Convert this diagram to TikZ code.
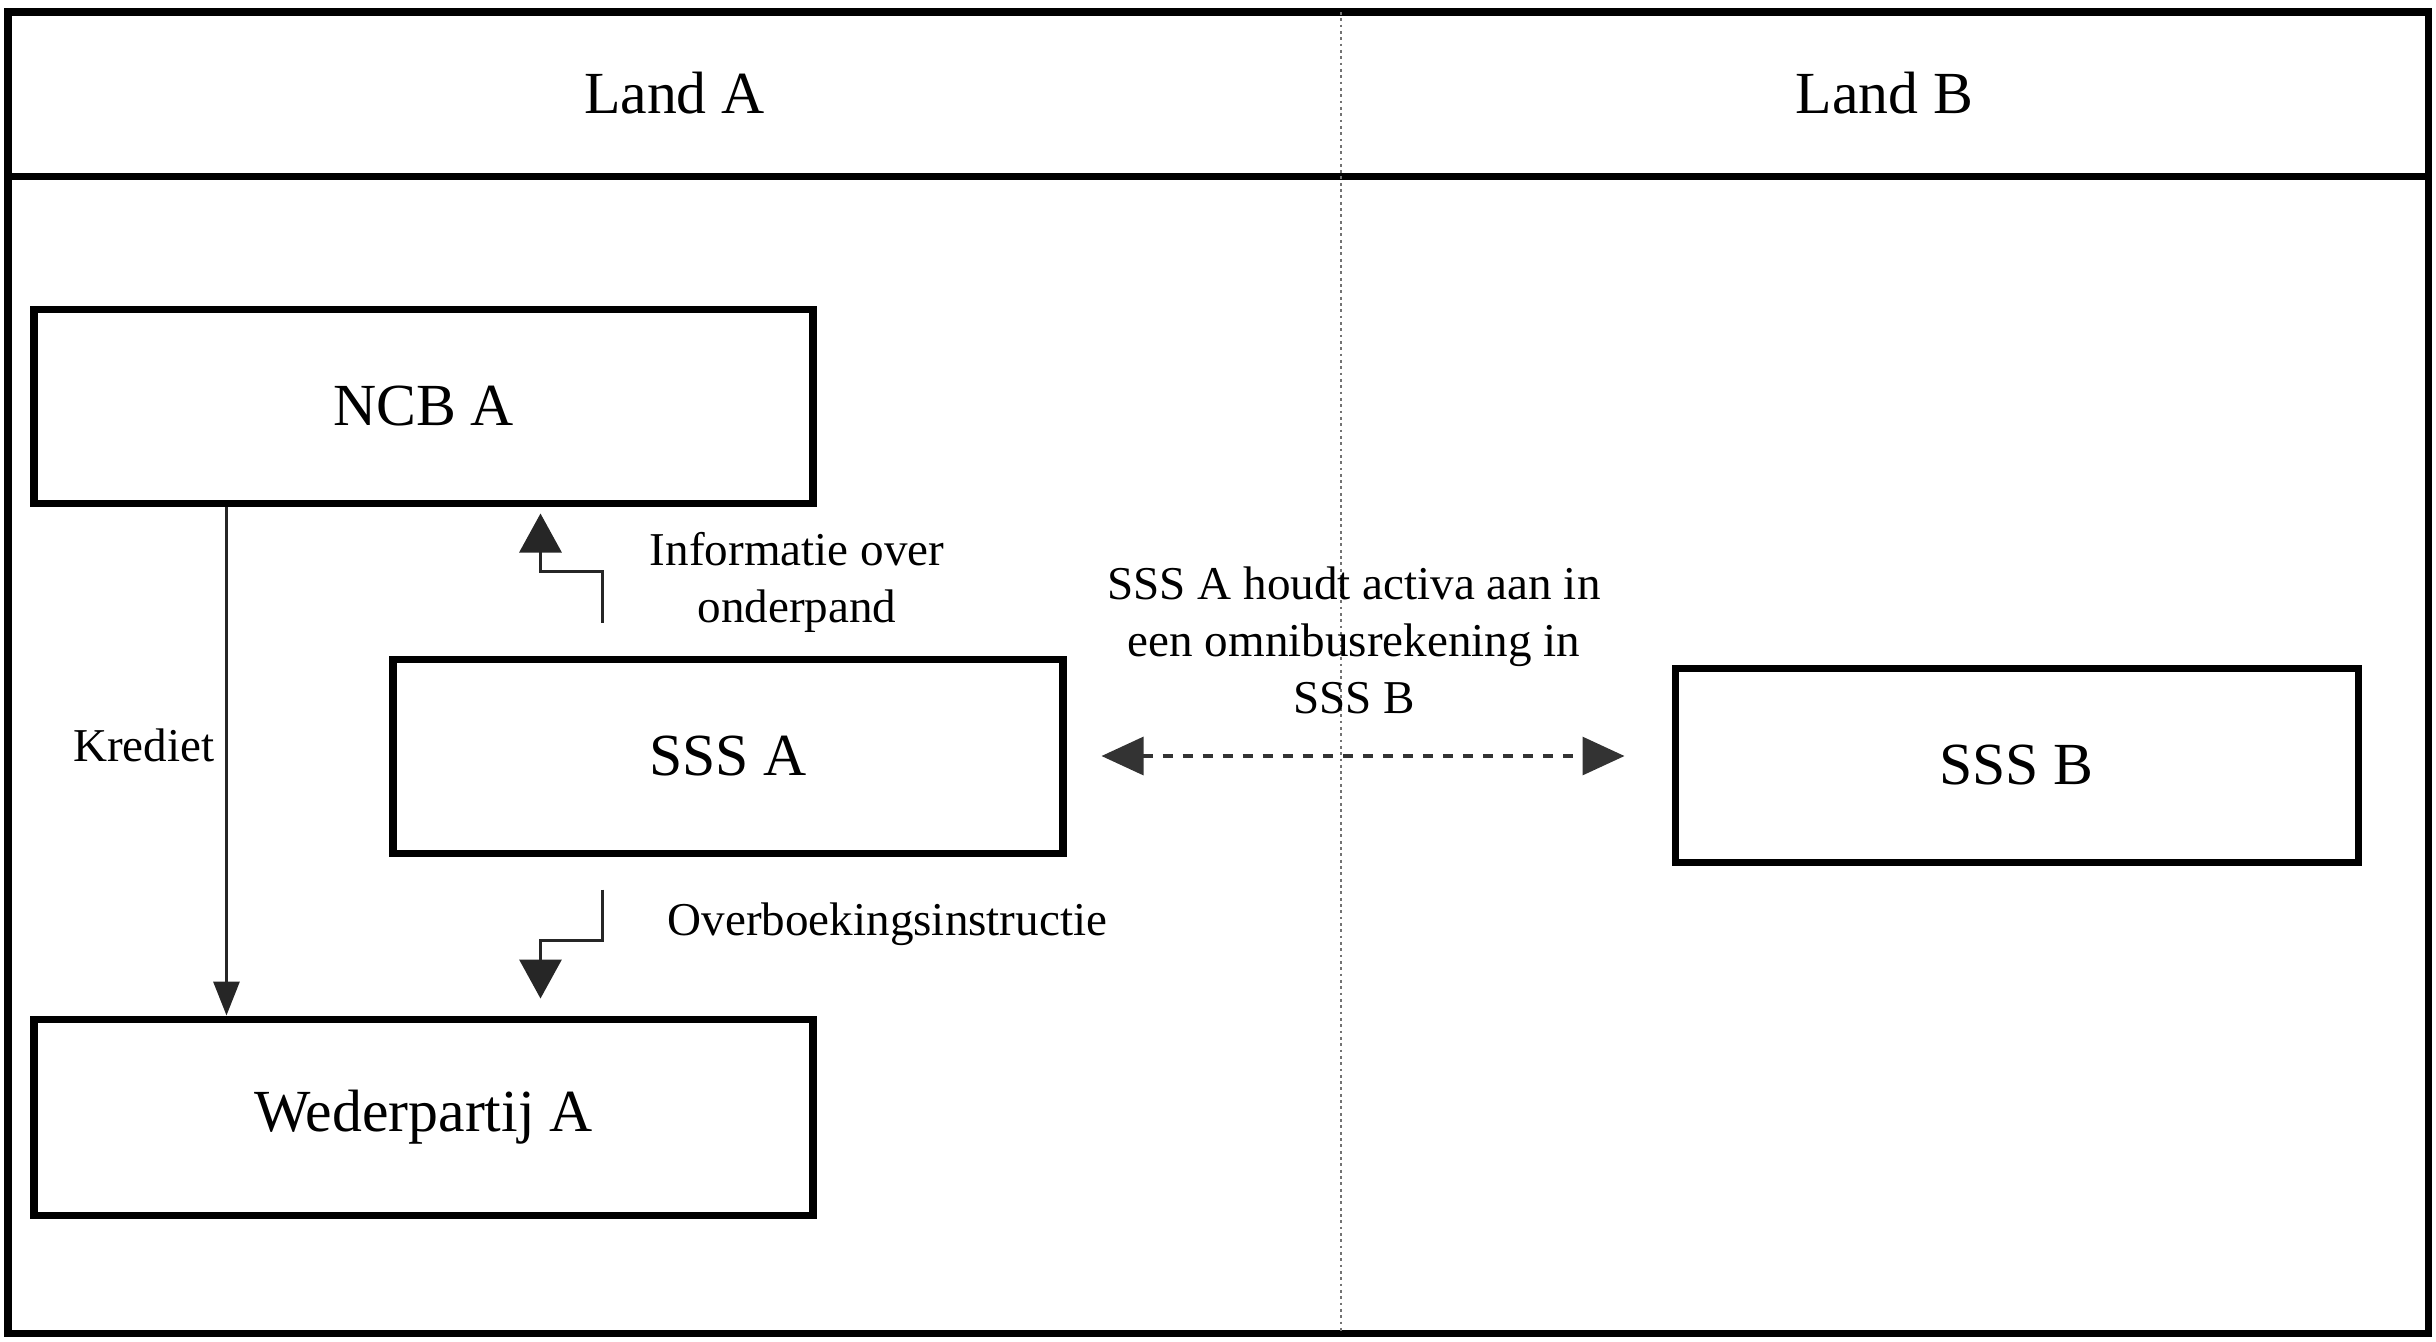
\documentclass[tikz,border=0pt]{standalone}
\usepackage{fontspec}
\setmainfont{Liberation Serif}
\usetikzlibrary{positioning,arrows.meta,calc}
\newcommand{\boxfont}{\fontsize{17}{20}\selectfont}
\newcommand{\lblfont}{\fontsize{13.4}{16.2}\selectfont}

\begin{document}
\begin{tikzpicture}[
  >={Triangle[length=3.9mm,width=4.2mm]},
  box/.style={draw, line width=2pt, minimum height=1.94cm, inner sep=0pt, font=\boxfont},
  flow/.style={draw=black!85, line width=0.9pt, ->},
  lbl/.style={font=\lblfont, align=center, inner sep=2pt}
]
\useasboundingbox (0,0) rectangle (24.36,-13.41);
% frame, header and the line between the two countries
\draw[line width=2pt] (0.08,-0.12) rectangle (24.28,-13.33);
\draw[line width=2pt] (0.08,-1.76) -- (24.28,-1.76);
\draw[densely dotted, black!55, line width=0.8pt] (13.41,-0.12) -- (13.41,-13.33);
\node[font=\boxfont] (landa) at (6.745,-0.93) {Land A};
\node[font=\boxfont] (landb) at (18.845,-0.93) {Land B};

\node[box, minimum width=7.79cm] (ncb) at (4.235,-4.06) {NCB A};
\node[box, minimum width=6.70cm] (sssa) at (7.28,-7.56) {SSS A};
\node[box, minimum width=7.79cm, minimum height=1.96cm] (wed) at (4.235,-11.17) {Wederpartij A};
\node[box, minimum width=6.83cm] (sssb) at (20.165,-7.65) {SSS B};

% credit
\draw[flow, >={Triangle[length=3.4mm,width=2.6mm]}] ([xshift=1.96cm]ncb.south west) -- node[lbl, left, pos=0.47, inner sep=3pt] (kred) {Krediet} ([xshift=1.96cm]wed.north west);

% collateral information
\draw[flow] ([shift={(2.13,0.33)}]sssa.north west) -- ++(0,0.51) -- ++(-0.62,0) -- ++(0,0.58);
\node[lbl] (info) at (7.97,-5.82) {Informatie over\\onderpand};

% transfer instruction
\draw[flow] ([shift={(2.13,-0.33)}]sssa.south west) -- ++(0,-0.51) -- ++(-0.62,0) -- ++(0,-0.58);
\node[lbl, anchor=west] (overb) at (6.60,-9.24) {Overboekingsinstructie};

% omnibus account
\draw[draw=black!80, line width=0.9pt, dash pattern=on 0.1cm off 0.1cm, <->, >={Triangle[length=4.2mm,width=3.8mm]}]
  ([xshift=0.35cm]sssa.east) -- ([xshift=-0.47cm]sssa.east -| sssb.west);
\node[lbl] (omni) at (13.54,-6.40) {SSS A houdt activa aan in\\een omnibusrekening in\\SSS B};
\end{tikzpicture}
\end{document}
